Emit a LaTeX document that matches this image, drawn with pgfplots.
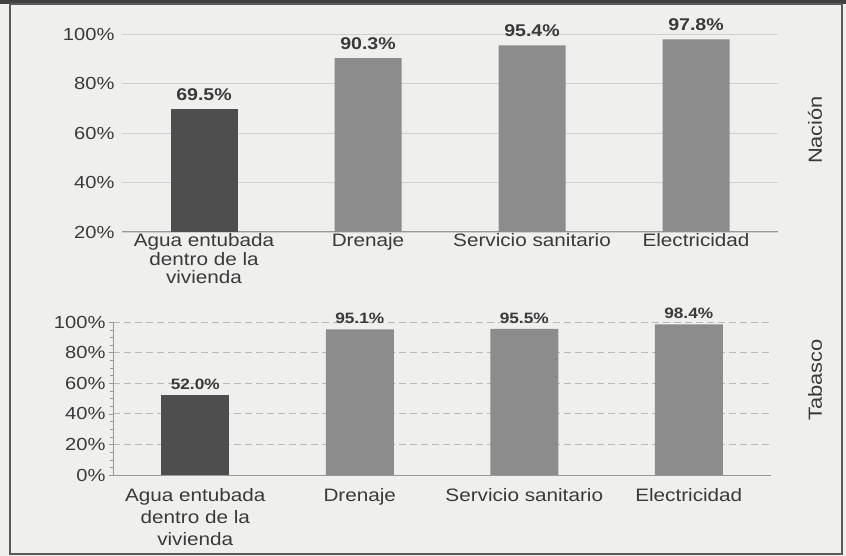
\documentclass[border=0pt]{standalone}
\usepackage{pgfplots}
\pgfplotsset{compat=1.18}
\usepackage{fontspec}
\setmainfont{Liberation Sans}[FakeStretch=1.15]
\definecolor{bg}{HTML}{EFEFED}
\definecolor{darkbar}{HTML}{4E4E4E}
\definecolor{midbar}{HTML}{8C8C8C}
\definecolor{txt}{HTML}{3A3A3A}
\definecolor{grid}{HTML}{CFCFCF}
\begin{document}
\begin{tikzpicture}
\fill[bg] (0pt,0pt) rectangle (846pt,556pt);
\fill[black!75] (0pt,552pt) rectangle (846pt,556pt);
\draw[gray!70!black, line width=1.2pt] (10pt,2pt) rectangle (842pt,552pt);

\begin{axis}[at={(122pt,324pt)}, anchor=south west, scale only axis,
  width=656pt, height=198pt,
  xmin=-0.5, xmax=3.5, ymin=20, ymax=100,
  ytick={20,40,60,80,100},
  /pgf/number format/assume math mode=true,
  yticklabel={\pgfmathprintnumber{\tick}\%},
  xtick={0,1,2,3},
  xticklabels={{Agua entubada\\dentro de la\\vivienda},Drenaje,Servicio sanitario,Electricidad},
  xticklabel style={align=center, font=\fontsize{18}{18.5}\selectfont, text=txt, yshift=2pt},
  yticklabel style={font=\fontsize{17.5}{17}\selectfont, text=txt, xshift=-4pt},
  major tick length=0pt,
  axis x line*=bottom, axis y line*=left,
  x axis line style={draw=gray!80, line width=1pt, -},
  y axis line style={draw=none},
  ymajorgrids, grid style={draw=grid, line width=0.9pt},
  clip mode=individual,
  ybar, bar width=67pt,
  nodes near coords={\pgfmathprintnumber[fixed,fixed zerofill,precision=1]{\pgfplotspointmeta}\%},
  nodes near coords style={font=\bfseries\fontsize{17}{17}\selectfont, text=txt, yshift=5pt},
]
\addplot[fill=darkbar, draw=none, bar shift=0pt] coordinates {(0,69.5)};
\addplot[fill=midbar, draw=none, bar shift=0pt] coordinates {(1,90.3) (2,95.4) (3,97.8)};
\end{axis}

\begin{axis}[at={(113pt,81pt)}, anchor=south west, scale only axis,
  width=658pt, height=153pt,
  xmin=-0.5, xmax=3.5, ymin=0, ymax=100,
  ytick={0,20,40,60,80,100},
  /pgf/number format/assume math mode=true,
  yticklabel={\pgfmathprintnumber{\tick}\%},
  xtick={0,1,2,3},
  xticklabels={{Agua entubada\\dentro de la\\vivienda},Drenaje,Servicio sanitario,Electricidad},
  xticklabel style={align=center, font=\fontsize{18}{22}\selectfont, text=txt, yshift=-6pt},
  yticklabel style={font=\fontsize{17.5}{17}\selectfont, text=txt},
  xtick style={draw=none},
  minor xtick={-0.5,0.5,1.5,2.5,3.5},
  minor y tick num=3,
  tick align=outside,
  major tick length=4pt, minor tick length=3pt,
  tick style={draw=gray!80},
  axis x line*=bottom, axis y line*=left,
  axis line style={draw=gray!80, line width=0.9pt, -},
  ymajorgrids, grid style={draw=gray!55, line width=0.9pt, dash pattern=on 7pt off 4pt},
  clip mode=individual,
  ybar, bar width=68pt,
  nodes near coords={\pgfmathprintnumber[fixed,fixed zerofill,precision=1]{\pgfplotspointmeta}\%},
  nodes near coords style={font=\bfseries\fontsize{15}{15}\selectfont, text=txt, yshift=2pt},
]
\addplot[fill=darkbar, draw=none, bar shift=0pt] coordinates {(0,52.0)};
\addplot[fill=midbar, draw=none, bar shift=0pt] coordinates {(1,95.1) (2,95.5) (3,98.4)};
\end{axis}

\node[rotate=90, font=\fontsize{19}{19}\selectfont, text=txt] at (815pt,426pt) {Nación};
\node[rotate=90, font=\fontsize{19}{19}\selectfont, text=txt] at (815pt,176pt) {Tabasco};
\end{tikzpicture}
\end{document}
